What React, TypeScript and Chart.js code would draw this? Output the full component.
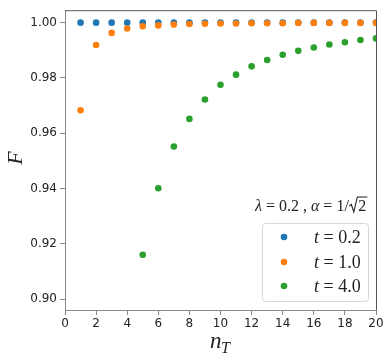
import React, { useEffect, useRef } from "react";
import { Chart, registerables } from "chart.js";

Chart.register(...registerables);

const nValues = [1, 2, 3, 4, 5, 6, 7, 8, 9, 10, 11, 12, 13, 14, 15, 16, 17, 18, 19, 20];
const greenN = [5, 6, 7, 8, 9, 10, 11, 12, 13, 14, 15, 16, 17, 18, 19, 20];
const fT02 = [1, 1, 1, 1, 1, 1, 1, 1, 1, 1, 1, 1, 1, 1, 1, 1, 1, 1, 1, 1];
const fT10 = [0.9683, 0.9919, 0.9963, 0.9979, 0.9987, 0.999, 0.9993, 0.9995, 0.9996, 0.9997, 0.9997, 0.9998, 0.9998, 0.9998, 0.9999, 0.9999, 0.9999, 0.9999, 0.9999, 0.9999];
const fT40 = [0.9161, 0.9401, 0.9552, 0.9652, 0.9722, 0.9775, 0.9812, 0.9842, 0.9865, 0.9884, 0.9898, 0.991, 0.9921, 0.9929, 0.9937, 0.9943];
const yTicks = [0.9, 0.92, 0.94, 0.96, 0.98, 1.0];
const seriesLabels = ["t = 0.2", "t = 1.0", "t = 4.0"];
const seriesValues = ["0.2", "1.0", "4.0"];
const colors = ["#1f77b4", "#ff7f0e", "#2ca02c"];

const MATH = "'Liberation Serif', 'DejaVu Serif', serif";

const overlay = {
  id: "overlay",
  afterDraw(chart: any) {
    const ctx = chart.ctx as CanvasRenderingContext2D;
    const a = chart.chartArea;
    ctx.save();
    // top/right spines
    ctx.strokeStyle = "#555";
    ctx.lineWidth = 1;
    ctx.beginPath();
    ctx.moveTo(a.left, a.top + 0.5);
    ctx.lineTo(a.right + 0.5, a.top + 0.5);
    ctx.lineTo(a.right + 0.5, a.bottom);
    ctx.stroke();

    // y label
    ctx.fillStyle = "#222";
    ctx.save();
    ctx.translate(16, 158);
    ctx.rotate(-Math.PI / 2);
    ctx.font = `italic 22px ${MATH}`;
    ctx.textAlign = "center";
    ctx.textBaseline = "middle";
    ctx.fillText("F", 0, 0);
    ctx.restore();

    // x label n_T
    ctx.font = `italic 23px ${MATH}`;
    ctx.textAlign = "left";
    ctx.textBaseline = "alphabetic";
    ctx.fillText("n", 210, 348);
    ctx.font = `italic 16px ${MATH}`;
    ctx.fillText("T", 221, 353);

    // legend title
    let x = 255;
    const ty = 211;
    const put = (s: string, italic: boolean) => {
      ctx.font = `${italic ? "italic " : ""}16px ${MATH}`;
      ctx.fillText(s, x, ty);
      x += ctx.measureText(s).width;
    };
    put("λ", true);
    put(" = 0.2 , ", false);
    put("α", true);
    put(" = 1/", false);
    // sqrt sign
    ctx.strokeStyle = "#222";
    ctx.lineWidth = 1.1;
    ctx.beginPath();
    ctx.moveTo(x + 0.5, ty - 5);
    ctx.lineTo(x + 2.5, ty - 6.5);
    ctx.lineTo(x + 5, ty + 1);
    ctx.lineTo(x + 8.5, ty - 14);
    ctx.lineTo(x + 18.5, ty - 14);
    ctx.stroke();
    x += 9.5;
    put("2", false);

    // legend box
    const bx = 262, by = 223, bw = 106, bh = 78;
    ctx.fillStyle = "rgba(255,255,255,0.85)";
    ctx.strokeStyle = "#d8d8d8";
    ctx.lineWidth = 1;
    ctx.beginPath();
    (ctx as any).roundRect(bx + 0.5, by + 0.5, bw, bh, 3);
    ctx.fill();
    ctx.stroke();

    const rows = [237, 262, 286];
    for (let i = 0; i < 3; i++) {
      ctx.fillStyle = colors[i];
      ctx.beginPath();
      ctx.arc(284, rows[i], 3.3, 0, Math.PI * 2);
      ctx.fill();
      ctx.fillStyle = "#222";
      ctx.textBaseline = "middle";
      let lx = 314;
      ctx.font = `italic 18px ${MATH}`;
      ctx.fillText("t", lx, rows[i] + 1);
      lx += ctx.measureText("t").width;
      ctx.font = `18px ${MATH}`;
      const rest = " = " + seriesValues[i];
      ctx.fillText(rest, lx, rows[i] + 1);
    }
    ctx.restore();
  },
};

export default function App() {
  const ref = useRef<HTMLCanvasElement>(null);
  useEffect(() => {
    document.body.style.margin = "0";
    const mk = (xs: number[], ys: number[]) => xs.map((x, i) => ({ x, y: ys[i] }));
    const chart = new Chart(ref.current!, {
      type: "scatter",
      data: {
        datasets: [
          { label: seriesLabels[0], data: mk(nValues, fT02), backgroundColor: colors[0], borderColor: colors[0], pointRadius: 3.3, borderWidth: 0, order: 3, clip: 0 },
          { label: seriesLabels[1], data: mk(nValues, fT10), backgroundColor: colors[1], borderColor: colors[1], pointRadius: 3.3, borderWidth: 0, order: 2, clip: 0 },
          { label: seriesLabels[2], data: mk(greenN, fT40), backgroundColor: colors[2], borderColor: colors[2], pointRadius: 3.3, borderWidth: 0, order: 1, clip: 0 },
        ] as any,
      },
      options: {
        animation: false,
        responsive: false,
        layout: { padding: { top: 5, right: 15, left: 0, bottom: 0 } },
        plugins: { legend: { display: false }, tooltip: { enabled: false } },
        scales: {
          x: {
            type: "linear",
            min: 0,
            max: 20,
            ticks: { stepSize: 2, color: "#222", font: { family: "DejaVu Sans", size: 12 }, padding: 2, maxRotation: 0 },
            grid: { drawOnChartArea: false, drawTicks: true, tickLength: 5, color: "#888" },
            border: { display: true, color: "#888" },
            afterFit: (s: any) => { s.height = 50; },
          },
          y: {
            type: "linear",
            min: 0.8961,
            max: 1.0045,
            afterBuildTicks: (s: any) => { s.ticks = yTicks.map((v) => ({ value: v })); },
            ticks: { color: "#222", font: { family: "DejaVu Sans", size: 12 }, padding: 3, callback: (v: any) => Number(v).toFixed(2) },
            grid: { drawOnChartArea: false, drawTicks: true, tickLength: 5, color: "#888" },
            border: { display: true, color: "#888" },
            afterFit: (s: any) => { s.width = 65; },
          },
        },
      },
      plugins: [overlay],
    });
    return () => chart.destroy();
  }, []);
  return (
    <div style={{ width: 391, height: 360 }}>
      <canvas ref={ref} width={391} height={360} style={{ display: "block" }} />
    </div>
  );
}
